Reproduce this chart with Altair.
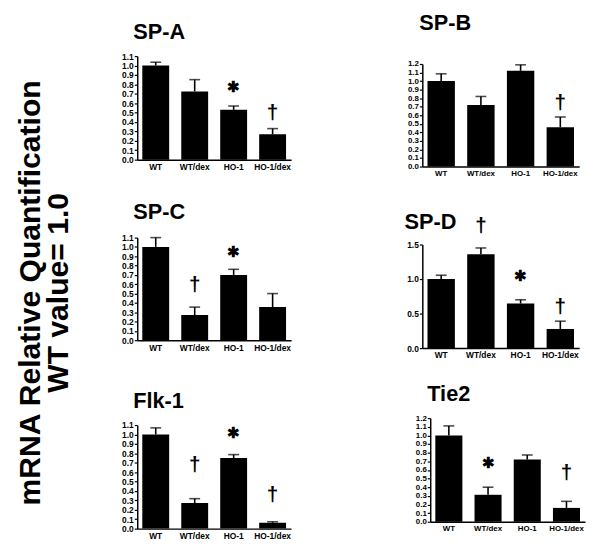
import altair as alt
import pandas as pd

conditions = ["WT", "WT/dex", "HO-1", "HO-1/dex"]

# mean and upper error (mean + SEM) per panel
spa_mean = [1.00, 0.725, 0.53, 0.27]
spa_upper = [1.035, 0.85, 0.57, 0.33]
spb_mean = [1.00, 0.72, 1.12, 0.46]
spb_upper = [1.085, 0.82, 1.19, 0.58]
spc_mean = [1.00, 0.27, 0.70, 0.355]
spc_upper = [1.10, 0.355, 0.76, 0.50]
spd_mean = [1.00, 1.36, 0.645, 0.277]
spd_upper = [1.055, 1.45, 0.70, 0.39]
flk_mean = [1.00, 0.272, 0.75, 0.062]
flk_upper = [1.07, 0.318, 0.786, 0.073]
tie_mean = [1.00, 0.312, 0.72, 0.16]
tie_upper = [1.11, 0.40, 0.773, 0.236]

# significance markers: (condition, symbol, height in data units)
STAR, DAG = "\u2731", "\u2020"
spa_marks = [("HO-1", STAR, 0.77), ("HO-1/dex", DAG, 0.50)]
spb_marks = [("HO-1/dex", DAG, 0.74)]
spc_marks = [("WT/dex", DAG, 0.59), ("HO-1", STAR, 0.95)]
spd_marks = [("WT/dex", DAG, 1.77), ("HO-1", STAR, 1.04), ("HO-1/dex", DAG, 0.60)]
flk_marks = [("WT/dex", DAG, 0.68), ("HO-1", STAR, 1.01), ("HO-1/dex", DAG, 0.36)]
tie_marks = [("WT/dex", STAR, 0.674), ("HO-1/dex", DAG, 0.56)]

panel_names = ["SP-A", "SP-B", "SP-C", "SP-D", "Flk-1", "Tie2"]
panel_means = [spa_mean, spb_mean, spc_mean, spd_mean, flk_mean, tie_mean]
panel_uppers = [spa_upper, spb_upper, spc_upper, spd_upper, flk_upper, tie_upper]
panel_marks = [spa_marks, spb_marks, spc_marks, spd_marks, flk_marks, tie_marks]
panel_ymax = [1.1, 1.2, 1.1, 1.5, 1.1, 1.2]
panel_ystep = [0.1, 0.1, 0.1, 0.5, 0.1, 0.1]

ylabel_lines = ["mRNA Relative Quantification", "WT value= 1.0"]

# ---- layout (page pixels) ----
M = 8
W, H = 592, 548
boxes = [  # left, right, top, bottom of each plot area
    (139, 295, 53, 158),
    (428, 587, 61, 165),
    (139, 295, 237, 341),
    (428, 587, 244, 349),
    (139, 295, 427, 532),
    (436, 593, 420, 525),
]
title_pos = [(135, 36), (425, 27), (135, 218), (410, 228), (135, 410), (433, 403)]
label_size = [8.5, 8, 8.5, 8.5, 8.5, 8]
FONT = "Liberation Sans"


def make_panel(i):
    x0, x1, y0, y1 = [v - M for v in boxes[i]]
    df = pd.DataFrame({"cond": conditions, "mean": panel_means[i], "upper": panel_uppers[i]})
    mk = pd.DataFrame(panel_marks[i], columns=["cond", "sym", "my"])
    ymax, step = panel_ymax[i], panel_ystep[i]
    nt = int(round(ymax / step))
    tick_vals = [round(k * step, 2) for k in range(nt + 1)]

    xs = alt.Scale(domain=conditions, range=[x0, x1], paddingInner=0.31, paddingOuter=0.13)
    ys = alt.Scale(domain=[0, ymax], range=[y1, y0], nice=False, zero=True)
    xax = alt.Axis(orient="bottom", offset=y1 - H, ticks=False, labelPadding=3,
                   labelAngle=0, labelOverlap=False, title=None, grid=False,
                   labelFontSize=label_size[i])
    yax = alt.Axis(orient="left", offset=-x0, values=tick_vals, format=".1f",
                   tickSize=3, labelPadding=1, title=None, grid=False, labelOverlap=False,
                   labelFontSize=label_size[i])

    X = alt.X("cond:N", scale=xs, sort=conditions, axis=xax)
    bars = alt.Chart(df).mark_bar(color="black").encode(
        x=X, y=alt.Y("mean:Q", scale=ys, axis=yax))
    err = alt.Chart(df).mark_rule(color="black", strokeWidth=1.6).encode(
        x=X, y=alt.Y("mean:Q", scale=ys, axis=yax), y2="upper:Q")
    cap = alt.Chart(df).mark_tick(color="black", size=11, thickness=1.6).encode(
        x=X, y=alt.Y("upper:Q", scale=ys, axis=yax))
    sig = alt.Chart(mk).mark_text(font=FONT, fontWeight="bold", color="black",
                                  baseline="middle", align="center").encode(
        x=X, y=alt.Y("my:Q", scale=ys, axis=yax), text="sym:N",
        size=alt.condition(alt.datum.sym == STAR, alt.value(15), alt.value(21)))
    tx, ty = title_pos[i]
    title = alt.Chart(pd.DataFrame({"t": [panel_names[i]]})).mark_text(
        font=FONT, fontWeight="bold", fontSize=22, align="left", baseline="alphabetic",
        color="black").encode(x=alt.value(tx - M), y=alt.value(ty - M), text="t:N")
    return alt.layer(bars, err, cap, sig, title)


panels = [make_panel(i) for i in range(6)]

ylab = []
for j, (line, cx) in enumerate(zip(ylabel_lines, [31, 60])):
    ylab.append(alt.Chart(pd.DataFrame({"t": [line]})).mark_text(
        font=FONT, fontWeight="bold", fontSize=30.5, angle=270, align="center",
        baseline="middle", color="black").encode(
        x=alt.value(cx - M), y=alt.value(293 - M), text="t:N"))

chart = alt.layer(*panels, *ylab).resolve_scale(
    x="independent", y="independent").resolve_axis(
    x="independent", y="independent").properties(
    width=W, height=H, autosize=alt.AutoSizeParams(type="none"), padding=0
).configure_view(stroke=None).configure_axis(
    domainColor="black", domainWidth=1.5, tickColor="black", tickWidth=1.2,
    labelColor="black", labelFont=FONT, labelFontWeight="bold"
)

chart.save("out.html", embed_options={"renderer": "svg", "actions": False})
